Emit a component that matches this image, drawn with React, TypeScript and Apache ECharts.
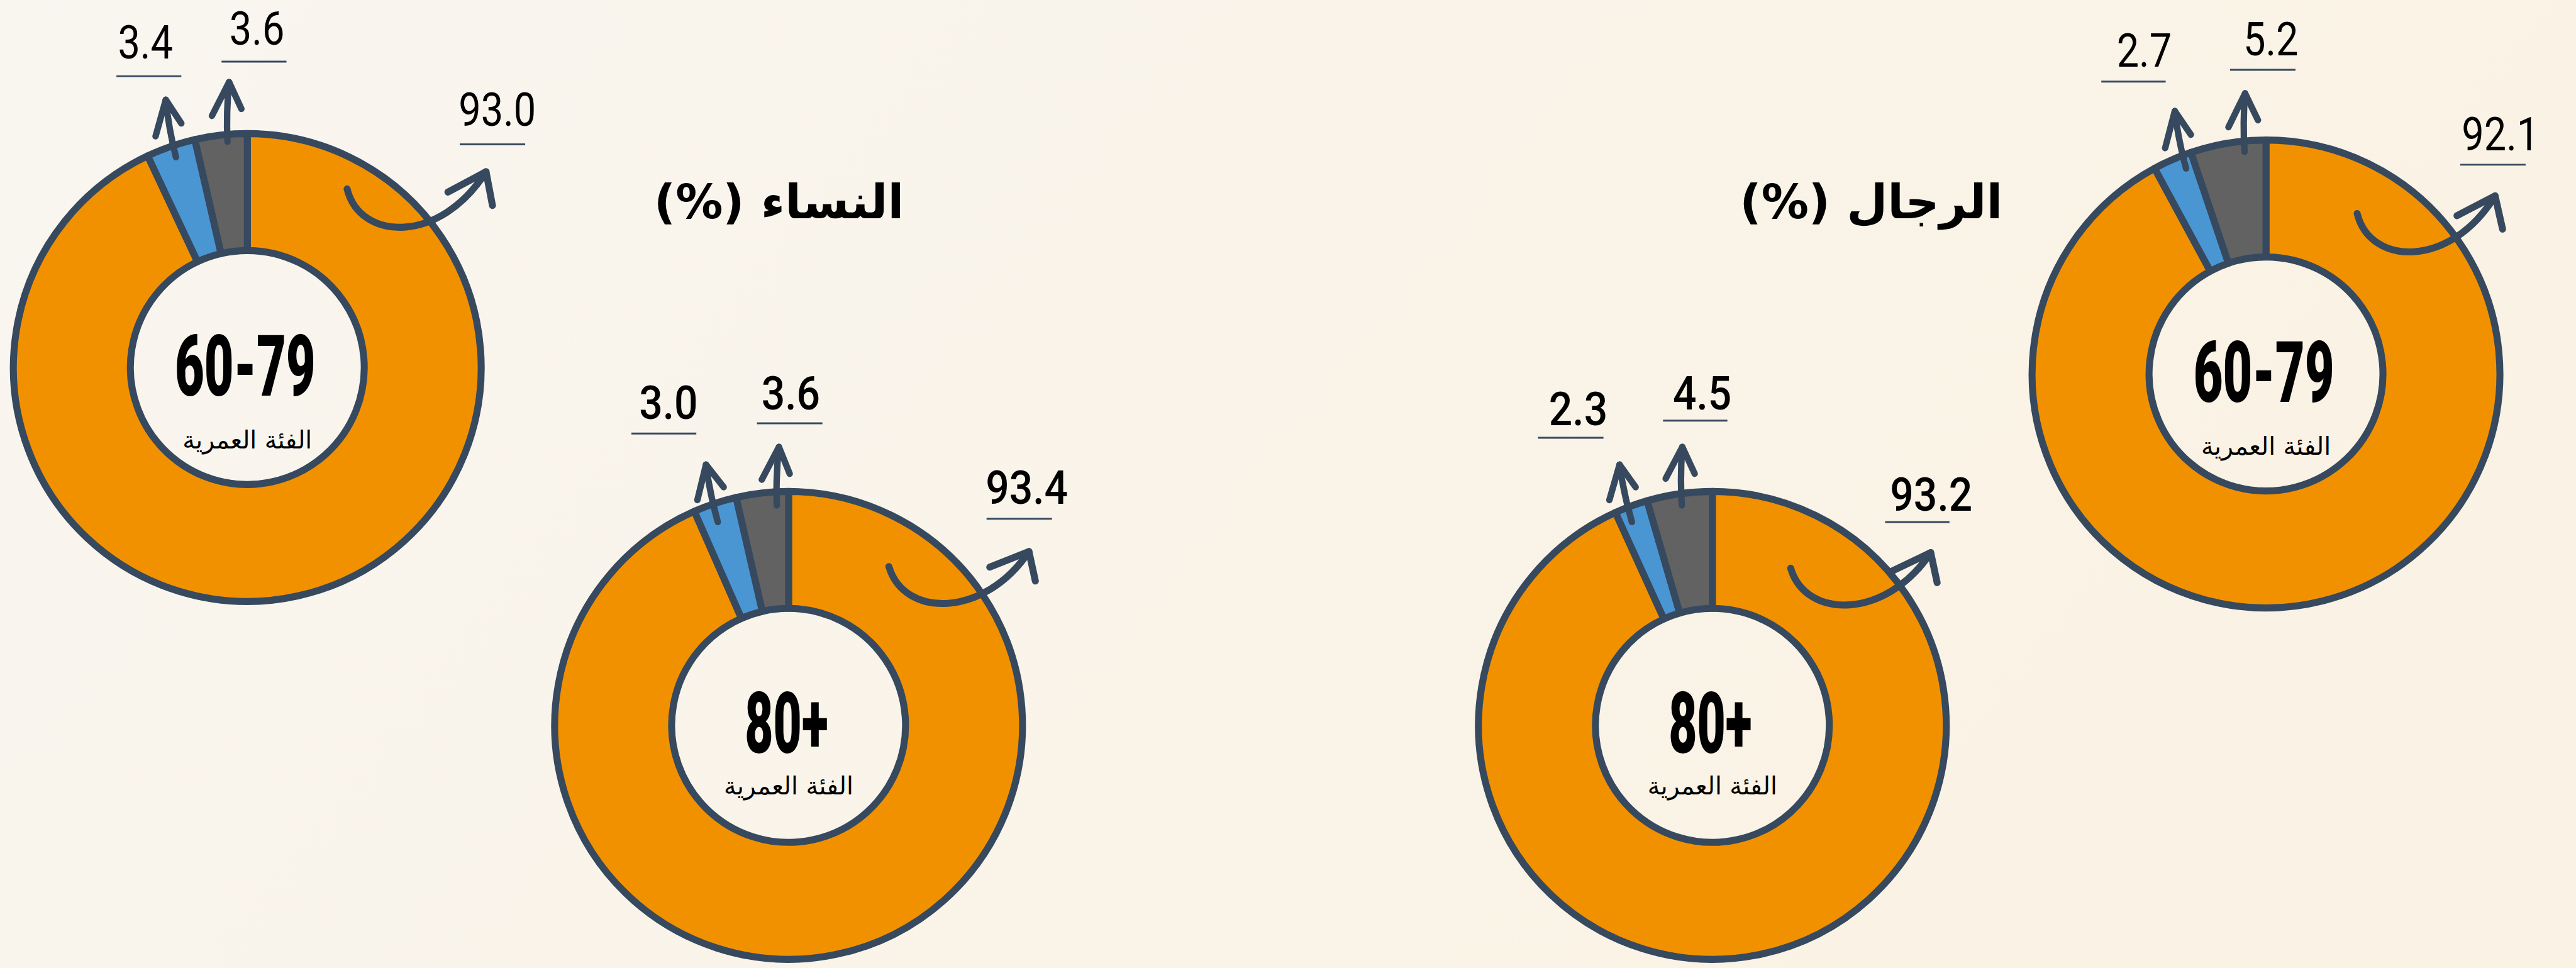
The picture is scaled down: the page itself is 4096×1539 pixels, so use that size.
import React, { useEffect, useRef } from "react";
import * as echarts from "echarts";

// ---- data ----
const segments = ["segment1", "segment2", "segment3"];
const segmentColors = ["#F29100", "#4A96D3", "#626262"];
const women6079 = [93.0, 3.4, 3.6];
const women80 = [93.4, 3.0, 3.6];
const men6079 = [92.1, 2.7, 5.2];
const men80 = [93.2, 2.3, 4.5];
const ageGroups = ["60-79", "80+"];
const ageLabel = "الفئة العمرية";
const titleWomen = "النساء (%)";
const titleMen = "الرجال (%)";

// ---- layout (reference pixel units, scaled by S) ----
const S = 0.853;
const BORDER = "#36495E";

type Lab = [number, number, number, number, number]; // textCenterX, baselineY, ulX1, ulX2, ulY
type Arr = number[];

const charts = [
  {
    values: women6079, group: ageGroups[0], cx: 461, cy: 685, ageDy: 135, numStyle: "narrow",
    labels: [[466, -448, 396, 518, -416], [-190, -574, -244, -123, -543], [18, -600, -48, 73, -570]] as Lab[],
    blue: [-133, -392, -152, -499, -171, -431, -123, -455],
    gray: [-37, -421, -34, -532, -66, -469, -11, -482],
    orange: [186, -333, 210, -235, 360, -230, 445, -365, 374, -327, 457, -302],
  },
  {
    values: women80, group: ageGroups[1], cx: 1470, cy: 1352, ageDy: 113, numStyle: "wide",
    labels: [[444, -411, 369, 491, -385], [-224, -570, -293, -172, -544], [4, -588, -59, 63, -563]] as Lab[],
    blue: [-132, -379, -154, -486, -170, -420, -121, -444],
    gray: [-22, -410, -18, -519, -50, -458, 2, -469],
    orange: [187, -296, 215, -200, 365, -200, 448, -324, 375, -295, 460, -269],
  },
  {
    values: men80, group: ageGroups[1], cx: 3192, cy: 1352, ageDy: 113, numStyle: "wide",
    labels: [[408, -399, 322, 442, -379], [-250, -558, -325, -203, -536], [-19, -588, -92, 28, -568]] as Lab[],
    blue: [-150, -379, -173, -486, -192, -420, -143, -444],
    gray: [-57, -410, -56, -519, -87, -460, -33, -469],
    orange: [146, -293, 174, -197, 324, -197, 407, -322, 336, -288, 419, -266],
  },
  {
    values: men6079, group: ageGroups[0], cx: 4224, cy: 697, ageDy: 135, numStyle: "narrow",
    labels: [[437, -415, 362, 484, -390], [-227, -571, -307, -187, -545], [9, -592, -67, 55, -567]] as Lab[],
    blue: [-149, -383, -170, -490, -188, -421, -140, -446],
    gray: [-40, -414, -39, -523, -70, -460, -15, -473],
    orange: [170, -299, 194, -201, 344, -196, 427, -332, 356, -295, 441, -270],
  },
];

const titles = [
  { text: titleWomen, x: 1452, y: 376 },
  { text: titleMen, x: 3488, y: 376 },
];

function textEl(x: number, y: number, text: string, size: number, family: string, weight: any, scaleX = 1) {
  return {
    type: "text",
    x: x * S,
    y: y * S,
    scaleX,
    z: 100,
    silent: true,
    style: {
      text,
      fill: "#000000",
      fontSize: size * S,
      fontFamily: family,
      fontWeight: weight,
      align: "center",
      verticalAlign: "middle",
      textAlign: "center",
      textVerticalAlign: "middle",
    },
  };
}

const arrowStyle = (w: number) => ({
  stroke: BORDER,
  lineWidth: w * S,
  fill: null,
  lineCap: "round",
  lineJoin: "round",
});

function straightArrow(cx: number, cy: number, a: Arr) {
  const p = (i: number) => [(cx + a[i]) * S, (cy + a[i + 1]) * S];
  const [tx, ty] = p(0);
  const [hx, hy] = p(2);
  const [w1x, w1y] = p(4);
  const [w2x, w2y] = p(6);
  return [
    {
      type: "bezierCurve", z: 100, silent: true,
      shape: { x1: tx, y1: ty, x2: hx, y2: hy, cpx1: (tx + hx) / 2 - 4 * S, cpy1: (ty + hy) / 2 },
      style: arrowStyle(12),
    },
    {
      type: "polyline", z: 100, silent: true,
      shape: { points: [[w1x, w1y], [hx, hy], [w2x, w2y]] },
      style: arrowStyle(12),
    },
  ];
}

function curvedArrow(cx: number, cy: number, a: Arr) {
  const p = (i: number) => [(cx + a[i]) * S, (cy + a[i + 1]) * S];
  const [sx, sy] = p(0);
  const [c1x, c1y] = p(2);
  const [c2x, c2y] = p(4);
  const [hx, hy] = p(6);
  const [w1x, w1y] = p(8);
  const [w2x, w2y] = p(10);
  return [
    {
      type: "bezierCurve", z: 100, silent: true,
      shape: { x1: sx, y1: sy, x2: hx, y2: hy, cpx1: c1x, cpy1: c1y, cpx2: c2x, cpy2: c2y },
      style: arrowStyle(13),
    },
    {
      type: "polyline", z: 100, silent: true,
      shape: { points: [[w1x, w1y], [hx, hy], [w2x, w2y]] },
      style: arrowStyle(13),
    },
  ];
}

function buildOption() {
  const series: any[] = [];
  const elements: any[] = [];

  charts.forEach((c) => {
    series.push({
      type: "pie",
      center: [c.cx * S, c.cy * S],
      radius: [218 * S, 436 * S],
      startAngle: 90,
      clockwise: true,
      silent: true,
      label: { show: false },
      labelLine: { show: false },
      emphasis: { disabled: true },
      itemStyle: { borderColor: BORDER, borderWidth: 13 * S },
      data: c.values.map((v, i) => ({
        name: segments[i],
        value: v,
        itemStyle: { color: segmentColors[i] },
      })),
    });

    // value labels + underlines
    c.labels.forEach((l, i) => {
      const narrow = c.numStyle === "narrow";
      const fs = 86;
      elements.push(
        textEl(
          c.cx + l[0],
          c.cy + l[1] - 0.36 * fs,
          c.values[i].toFixed(1),
          fs,
          "Roboto",
          narrow ? 400 : 500,
          narrow ? 0.86 : 0.9
        )
      );
      elements.push({
        type: "line", z: 100, silent: true,
        shape: { x1: (c.cx + l[2]) * S, y1: (c.cy + l[4]) * S, x2: (c.cx + l[3]) * S, y2: (c.cy + l[4]) * S },
        style: { stroke: BORDER, lineWidth: 3.5 * S },
      });
    });

    elements.push(...straightArrow(c.cx, c.cy, c.blue));
    elements.push(...straightArrow(c.cx, c.cy, c.gray));
    elements.push(...curvedArrow(c.cx, c.cy, c.orange));

    // centre texts
    elements.push(textEl(c.cx - 4, c.cy - 2, c.group, 158, "Roboto", 900, c.group === "80+" ? 0.58 : 0.6));
    elements.push(textEl(c.cx, c.cy + c.ageDy, ageLabel, 46, "DejaVu Sans", 400));
  });

  titles.forEach((t) => {
    elements.push(textEl(t.x, t.y, t.text + "\u200F", 88, "DejaVu Sans", 700));
  });

  return {
    animation: false,
    backgroundColor: new echarts.graphic.LinearGradient(0, 0, 1, 0.3, [
      { offset: 0, color: "#F9F6F0" },
      { offset: 1, color: "#FAF2E4" },
    ]),
    series,
    graphic: { elements },
  };
}

export default function App() {
  const ref = useRef<HTMLDivElement>(null);
  useEffect(() => {
    document.body.style.margin = "0";
    const chart = echarts.init(ref.current!, null, { renderer: "svg" });
    chart.setOption(buildOption() as any);
    return () => chart.dispose();
  }, []);
  return <div ref={ref} style={{ width: 4096, height: 1539, position: "fixed", left: 0, top: 0 }} />;
}
